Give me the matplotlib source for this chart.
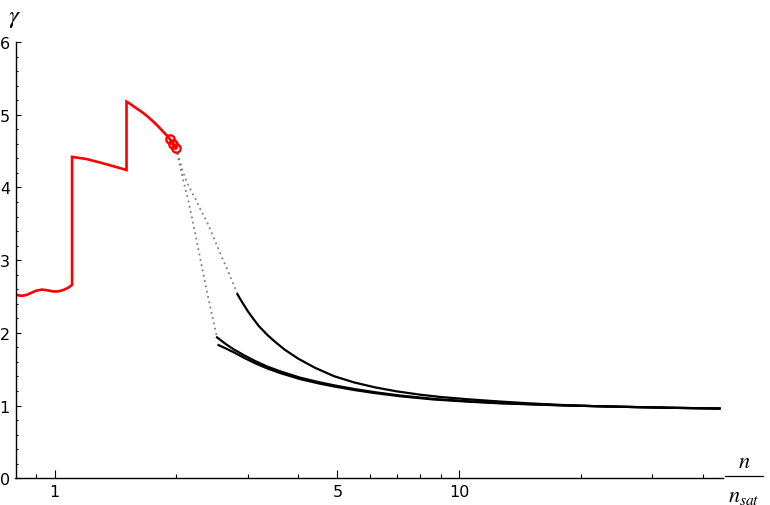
# gamma vs n/n_sat: red low-density branch, dotted bridges, black high-density curves
import matplotlib
matplotlib.use("Agg")
import matplotlib.pyplot as plt
from matplotlib.lines import Line2D
from matplotlib.ticker import FixedLocator, FixedFormatter, NullFormatter

plt.rcParams['mathtext.fontset'] = 'stix'

# red branch
red_x = [0.80, 0.815, 0.83, 0.85, 0.875, 0.90, 0.93, 0.96, 0.99, 1.02, 1.05, 1.08, 1.104,
         1.104, 1.20, 1.30, 1.40, 1.505,
         1.505, 1.538, 1.567, 1.613, 1.659, 1.707, 1.757, 1.807, 1.859, 1.891, 1.924, 1.957, 1.995]
red_y = [2.53, 2.515, 2.51, 2.52, 2.55, 2.58, 2.595, 2.585, 2.57, 2.57, 2.59, 2.62, 2.66,
         4.42, 4.39, 4.34, 4.29, 4.24,
         5.18, 5.149, 5.115, 5.068, 5.02, 4.963, 4.90, 4.833, 4.76, 4.718, 4.67, 4.60, 4.545]

# open circles at the end of the red branch
circ_x = [1.924, 1.957, 1.995]
circ_y = [4.67, 4.60, 4.545]

# dotted bridges
dot1_x = [1.995, 2.025, 2.084, 2.143, 2.205, 2.291, 2.38, 2.471, 2.519]
dot1_y = [4.545, 4.37, 4.07, 3.80, 3.475, 3.017, 2.558, 2.145, 1.938]
dot2_x = [1.995, 2.03, 2.07, 2.124, 2.18, 2.248, 2.31, 2.38, 2.45, 2.519, 2.59, 2.667, 2.75, 2.833]
dot2_y = [4.545, 4.40, 4.23, 4.07, 3.94, 3.80, 3.66, 3.522, 3.36, 3.20, 3.04, 2.879, 2.70, 2.534]

# black curves
blk1_x = [2.83, 2.9, 3.0, 3.1, 3.2, 3.35, 3.5, 3.7, 4.0, 4.4, 4.9, 5.5, 6.2, 7.0, 8.0,
          9.0, 10.5, 12.5, 15, 18, 22, 27, 33, 39, 44]
blk1_y = [2.53, 2.43, 2.30, 2.19, 2.09, 1.975, 1.88, 1.77, 1.645, 1.52, 1.405, 1.318, 1.25, 1.196, 1.15,
          1.118, 1.087, 1.057, 1.03, 1.008, 0.991, 0.98, 0.97, 0.964, 0.96]
blk2_x = [2.519, 2.65, 2.77, 2.95, 3.15, 3.35, 3.6, 4.05, 4.5, 4.9, 5.5, 6.2, 7.15, 8.64,
          10.5, 12.6, 15, 18, 22, 27, 33, 39, 44]
blk2_y = [1.938, 1.845, 1.773, 1.686, 1.605, 1.538, 1.473, 1.383, 1.322, 1.279, 1.228, 1.183, 1.138, 1.092,
          1.06, 1.035, 1.019, 1.004, 0.991, 0.98, 0.97, 0.964, 0.96]
blk3_x = [2.54, 2.65, 2.77, 2.95, 3.15, 3.35, 3.6, 4.05, 4.5, 4.9, 5.5, 6.2, 7.15, 8.64,
          10.5, 12.6, 15, 18, 22, 27, 33, 39, 44]
blk3_y = [1.832, 1.785, 1.733, 1.652, 1.575, 1.512, 1.449, 1.363, 1.304, 1.263, 1.214, 1.171, 1.128, 1.084,
          1.054, 1.031, 1.017, 1.002, 0.991, 0.98, 0.97, 0.964, 0.96]

x_major = [1, 5, 10]
x_major_labels = ['1', '5', '10']
x_minor = [0.9, 2, 3, 4, 6, 7, 8, 9, 20, 30, 40]
y_major = [0, 1, 2, 3, 4, 5, 6]
y_minor = [i / 5 for i in range(31) if i % 5 != 0]

W, H = 770, 506
fig = plt.figure(figsize=(W / 100, H / 100), dpi=100)
ax = fig.add_axes([15.5 / W, (H - 479.3) / H, 708 / W, 436.3 / H])

ax.plot(dot1_x, dot1_y, color='gray', linestyle=(0, (1, 2)), linewidth=1.3)
ax.plot(dot2_x, dot2_y, color='gray', linestyle=(0, (1, 2)), linewidth=1.3)
ax.plot(red_x, red_y, color='red', linewidth=1.9, solid_joinstyle='miter')
ax.plot(circ_x, circ_y, linestyle='none', marker='o', markersize=6,
        markerfacecolor='none', markeredgecolor='red', markeredgewidth=1.7)
for bx, by in [(blk1_x, blk1_y), (blk2_x, blk2_y), (blk3_x, blk3_y)]:
    ax.plot(bx, by, color='black', linewidth=1.6)

ax.set_xscale('log')
ax.set_xlim(0.8, 45)
ax.set_ylim(0, 6)

ax.xaxis.set_major_locator(FixedLocator(x_major))
ax.xaxis.set_major_formatter(FixedFormatter(x_major_labels))
ax.xaxis.set_minor_locator(FixedLocator(x_minor))
ax.xaxis.set_minor_formatter(NullFormatter())
ax.yaxis.set_major_locator(FixedLocator(y_major))
ax.yaxis.set_minor_locator(FixedLocator(y_minor))

ax.tick_params(axis='x', which='major', direction='in', length=5.5, width=0.8, pad=4, labelsize=11.5)
ax.tick_params(axis='x', which='minor', direction='in', length=3.1, width=0.8)
ax.tick_params(axis='y', which='major', direction='in', length=3.6, width=0.8, pad=4, labelsize=11.5)
ax.tick_params(axis='y', which='minor', direction='in', length=1.7, width=0.8)

for side in ['top', 'right']:
    ax.spines[side].set_visible(False)
for side in ['left', 'bottom']:
    ax.spines[side].set_linewidth(1.0)
ax.patch.set_visible(False)

# axis labels, Mathematica style
fig.text(14 / W, 1 - 18 / H, r'$\gamma$', fontsize=18, ha='center', va='center')
fig.text(744 / W, 1 - 462 / H, r'$n$', fontsize=16, ha='center', va='center')
fig.text(744 / W, 1 - 502 / H, r'$n_{sat}$', fontsize=16, ha='center', va='baseline')
fig.add_artist(Line2D([725 / W, 763 / W], [1 - 477 / H, 1 - 477 / H], color='black', linewidth=0.9))

fig.savefig('out.png', dpi=100)
